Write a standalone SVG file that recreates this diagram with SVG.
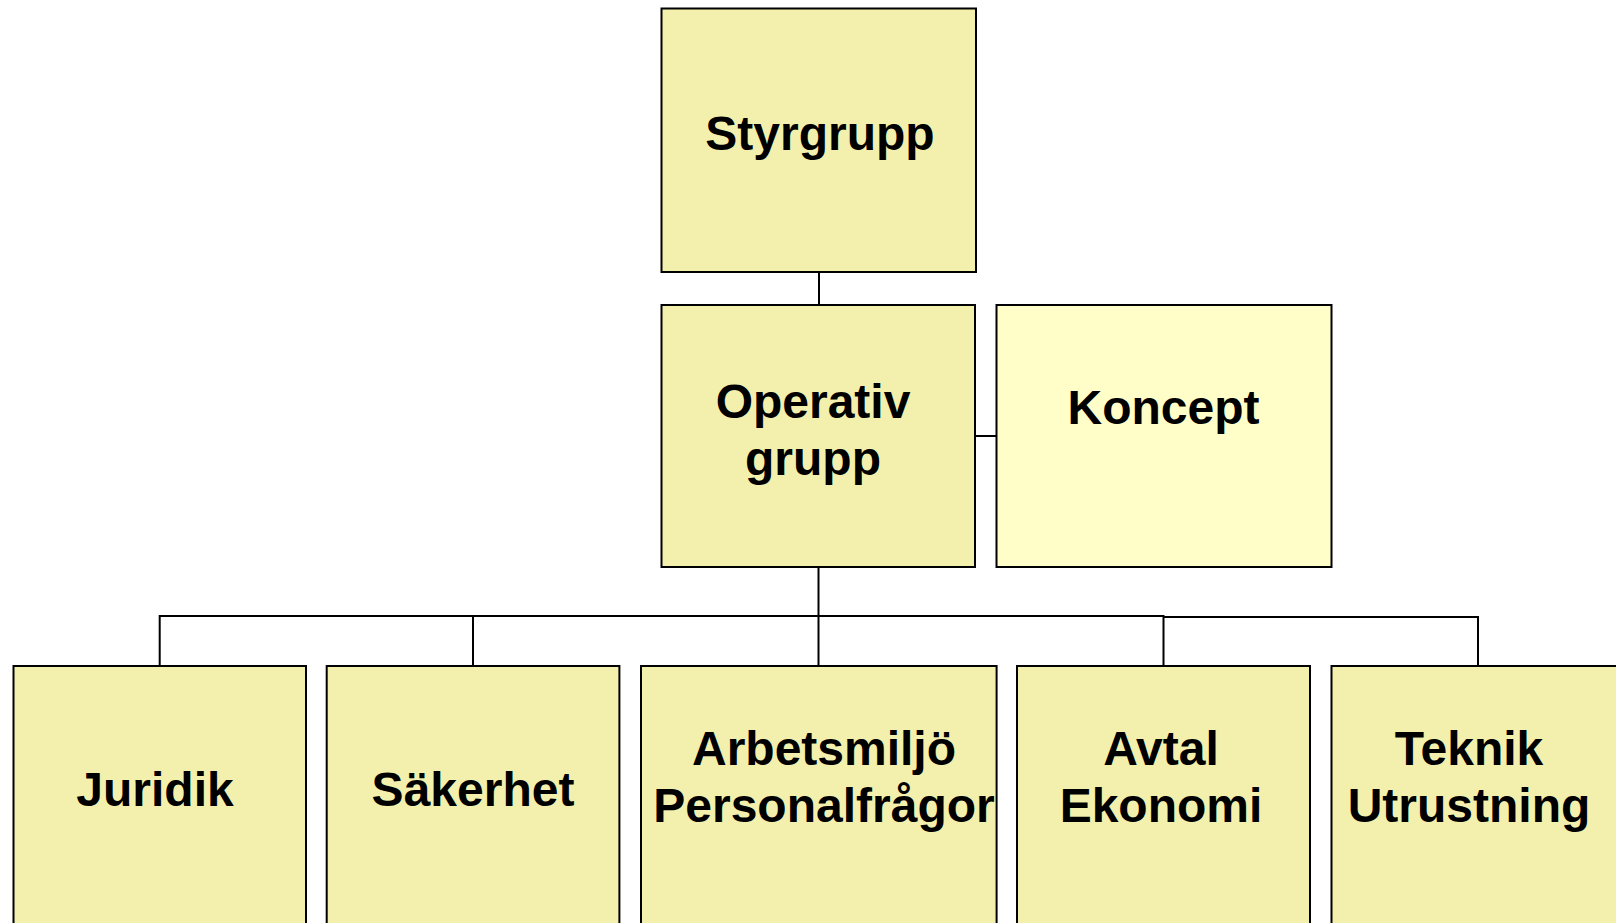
<svg xmlns="http://www.w3.org/2000/svg" width="1616" height="923" viewBox="0 0 1616 923">
<style>
.box{fill:#F3F0AE;stroke:#000;stroke-width:2}
.light{fill:#FFFDC8}
.lbl{font-family:"Liberation Sans",Arial,sans-serif;font-weight:bold;font-size:48px;fill:#000;text-anchor:middle}
.con{fill:none;stroke:#000;stroke-width:2}
</style>
<rect width="1616" height="923" fill="#fff"/>
<g id="connectors">
<line class="con" x1="819" y1="272" x2="819" y2="305"/>
<line class="con" x1="975" y1="436" x2="997" y2="436"/>
<line class="con" x1="818.5" y1="567" x2="818.5" y2="616"/>
<polyline class="con" points="159.7,666 159.7,616 1164.5,616"/>
<polyline class="con" points="1163.5,666 1163.5,617 1478,617 1478,666"/>
<line class="con" x1="473" y1="616" x2="473" y2="666"/>
<line class="con" x1="818.5" y1="616" x2="818.5" y2="666"/>
</g>
<g id="styrgrupp">
<rect class="box" x="661.5" y="8.5" width="314.5" height="263.5"/>
<text class="lbl" x="820" y="150">Styrgrupp</text>
</g>
<g id="operativ">
<rect class="box" x="661.5" y="305" width="313.5" height="262"/>
<text class="lbl" x="813" y="418">Operativ</text>
<text class="lbl" x="813" y="475">grupp</text>
</g>
<g id="koncept">
<rect class="box light" x="996.5" y="305" width="335" height="262"/>
<text class="lbl" x="1163.5" y="424">Koncept</text>
</g>
<g id="juridik">
<rect class="box" x="13.5" y="666" width="292.5" height="270"/>
<text class="lbl" x="155" y="806">Juridik</text>
</g>
<g id="sakerhet">
<rect class="box" x="326.7" y="666" width="292.7" height="270"/>
<text class="lbl" x="473" y="806">Säkerhet</text>
</g>
<g id="arbetsmiljo">
<rect class="box" x="641" y="666" width="355.6" height="270"/>
<text class="lbl" x="824" y="765">Arbetsmiljö</text>
<text class="lbl" x="824" y="822">Personalfrågor</text>
</g>
<g id="avtal">
<rect class="box" x="1017" y="666" width="293" height="270"/>
<text class="lbl" x="1161" y="765">Avtal</text>
<text class="lbl" x="1161" y="822">Ekonomi</text>
</g>
<g id="teknik">
<rect class="box" x="1331.5" y="666" width="293" height="270"/>
<text class="lbl" x="1469" y="765">Teknik</text>
<text class="lbl" x="1469" y="822">Utrustning</text>
</g>
</svg>
